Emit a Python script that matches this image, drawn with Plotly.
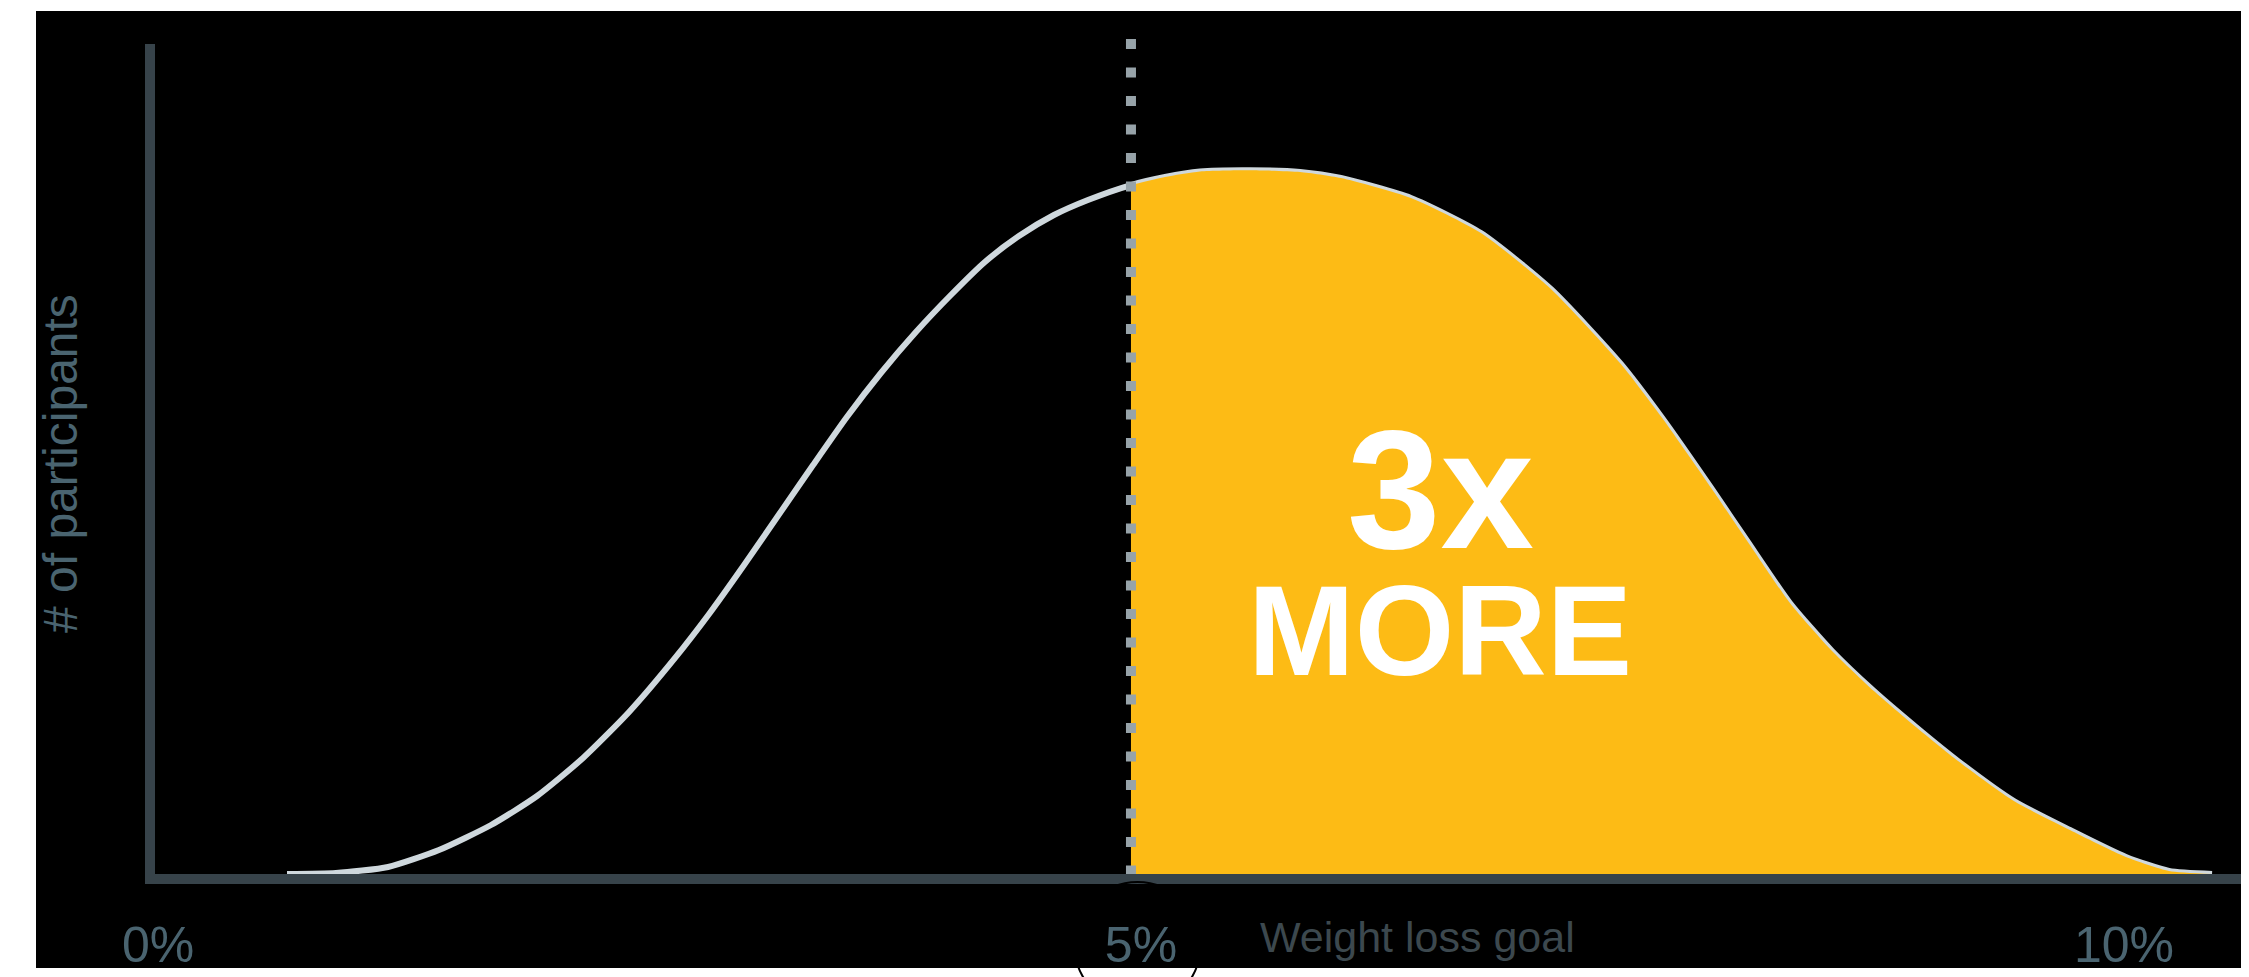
import plotly.graph_objects as go

# ---- data ----
weight_loss_pct = [0.707, 0.956, 1.221, 1.480, 1.745, 1.979, 2.213, 2.447, 2.681, 2.854,
                   3.032, 3.204, 3.383, 3.555, 3.728, 3.906, 4.079, 4.257, 4.430, 4.608,
                   4.781, 5.0, 5.173, 5.351, 5.605, 5.860, 6.068, 6.424, 6.780, 7.136,
                   7.492, 7.706, 7.955, 8.138, 8.352, 8.566, 8.779, 8.993, 9.207, 9.491,
                   9.776, 10.061, 10.280, 10.499]
participants = [0, 0.14, 1.0, 3.41, 6.97, 11.10, 16.50, 23.04, 30.73, 36.98,
                43.95, 50.92, 58.18, 65.01, 71.27, 77.10, 82.22, 87.06, 90.75, 93.74,
                95.88, 98.01, 99.15, 99.93, 100.1, 99.86, 99.0, 96.16, 91.18, 83.21,
                72.55, 64.72, 54.77, 47.23, 38.55, 31.72, 26.03, 20.91, 16.07, 10.38,
                6.26, 2.42, 0.43, 0]
goal = 5.0
tick_vals = [0, 5, 10]
tick_text = ["0%", "5%", "10%"]
x_title = "Weight loss goal"
y_title = "# of participants"
callout_big = "3x"
callout_small = "MORE"

X_RANGE = [0, 10.687]
Y_RANGE = [0, 118.78]

AXIS_COLOR = "#37434A"
CURVE_COLOR = "#CFD8DD"
FILL_COLOR = "#FDBB15"
DOT_COLOR = "#97A3A9"
LABEL_COLOR = "#4A6470"
FONT = "Liberation Sans, Arial, sans-serif"

fill_x = [x for x in weight_loss_pct if x >= goal]
fill_y = [y for x, y in zip(weight_loss_pct, participants) if x >= goal]

fig = go.Figure()
fig.add_trace(go.Scatter(
    x=weight_loss_pct, y=participants, mode="lines",
    line=dict(color=CURVE_COLOR, width=6, shape="spline", smoothing=0.6),
    hoverinfo="skip", showlegend=False))
fig.add_trace(go.Scatter(
    x=fill_x, y=fill_y, mode="lines", fill="tozeroy", fillcolor=FILL_COLOR,
    line=dict(width=0, shape="spline", smoothing=0.6),
    hoverinfo="skip", showlegend=False))
fig.add_trace(go.Scatter(
    x=[goal, goal], y=[Y_RANGE[1], 0], mode="lines",
    line=dict(color=DOT_COLOR, width=10, dash="10px,18.5px"),
    hoverinfo="skip", showlegend=False))

# page body adds an 8px offset; plot area spans x 148..2249, y 39..874 in the window
W, H = 2249, 977
L, R, T, B = 140, 8, 31, 111
PW, PH = W - L - R, H - T - B
X0, Y0 = 148, 874

def px(xp):
    return (xp - X0) / PW

def py(yp):
    return (Y0 - yp) / PH

shapes = [
    dict(type="rect", xref="paper", yref="paper", x0=px(36), x1=px(2245), y0=py(968), y1=py(11),
         fillcolor="black", line=dict(width=0), layer="below"),
    # y axis line
    dict(type="line", xref="paper", yref="paper", x0=px(150), x1=px(150), y0=py(884), y1=py(44),
         line=dict(color=AXIS_COLOR, width=10), layer="above"),
    # circle around the goal label
    dict(type="circle", xref="paper", yref="paper", x0=px(1074.5), x1=px(1200.5),
         y0=py(1008), y1=py(882), line=dict(color="black", width=2), layer="above"),
]

annotations = [
    dict(text=y_title, xref="paper", yref="paper", x=px(60), y=py(464), textangle=-90,
         showarrow=False, xanchor="center", yanchor="middle",
         font=dict(family=FONT, size=48, color=LABEL_COLOR)),
    dict(text=x_title, xref="paper", yref="paper", x=px(1417), y=py(937),
         showarrow=False, xanchor="center", yanchor="middle",
         font=dict(family=FONT, size=43, color="#3C484E")),
    dict(text="<b>" + callout_big + "</b>", xref="paper", yref="paper", x=px(1440), y=py(490),
         showarrow=False, xanchor="center", yanchor="middle",
         font=dict(family=FONT, size=168, color="white")),
    dict(text="<b>" + callout_small + "</b>", xref="paper", yref="paper", x=px(1440), y=py(630),
         showarrow=False, xanchor="center", yanchor="middle",
         font=dict(family=FONT, size=128, color="white")),
]

fig.update_layout(
    template="none",
    width=W, height=H,
    margin=dict(l=L, r=R, t=T, b=B, pad=0, autoexpand=False),
    paper_bgcolor="white", plot_bgcolor="black",
    shapes=shapes, annotations=annotations,
    showlegend=False,
    xaxis=dict(range=X_RANGE, showgrid=False, zeroline=False, showline=True, automargin=False,
               linecolor=AXIS_COLOR, linewidth=10, layer="below traces",
               tickmode="array", tickvals=tick_vals, ticktext=tick_text, ticks="",
               tickfont=dict(family=FONT, size=50, color=LABEL_COLOR),
               ticklabelshift=10, ticklabelstandoff=18, fixedrange=True),
    yaxis=dict(range=Y_RANGE, showgrid=False, zeroline=False, showline=False, automargin=False,
               showticklabels=False, ticks="", fixedrange=True),
)

fig.write_html("out.html")
